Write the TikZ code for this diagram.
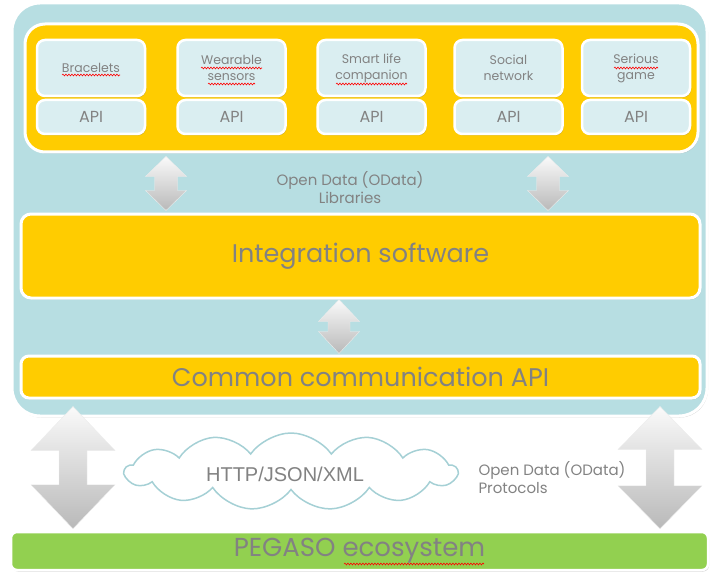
\documentclass[tikz,border=0pt]{standalone}
\usepackage{fontspec}
\setmainfont{Poppins}
\newfontfamily\cloudfont{Liberation Sans}
\usetikzlibrary{shapes.symbols,shadows,calc,decorations.pathmorphing}

\definecolor{panelblue}{RGB}{183,222,226}
\definecolor{boxblue}{RGB}{218,238,241}
\definecolor{gold}{RGB}{255,204,0}
\definecolor{leaf}{RGB}{146,208,80}
\definecolor{txtgray}{RGB}{130,130,130}
\definecolor{cloudline}{RGB}{165,208,213}

\tikzset{
  softshadow/.style={drop shadow={shadow xshift=1pt,shadow yshift=-1.5pt,opacity=.35,fill=black!55}},
  panel/.style={draw=white,line width=3pt,inner sep=0pt,softshadow},
  modbox/.style={panel,fill=boxblue,line width=2.5pt,rounded corners=8pt,minimum width=108pt,
                 text=txtgray,align=center,font=\fontsize{12.5}{16}\selectfont},
  apibox/.style={modbox,minimum height=34pt,font=\fontsize{16}{18}\selectfont},
  topbox/.style={modbox,minimum height=56pt},
  bigtext/.style={text=txtgray,font=\fontsize{25.5}{28}\selectfont},
  smalltext/.style={text=txtgray,align=left,font=\fontsize{15}{18}\selectfont},
  arrowshade/.style={top color=white!96!gray,bottom color=gray!55,draw=white!85!gray,line width=.4pt},
  squig/.style={red,line width=.6pt,decorate,decoration={snake,amplitude=.9pt,segment length=3pt}}
}

% vertical double block arrow between two tip points
% #1 top tip, #2 bottom tip, #3 head half width, #4 shaft half width, #5 head length
\newcommand\dblarrow[5]{%
  \shade[arrowshade] let \p1=(#1), \p2=(#2) in
    (\x1,\y1) -- (\x1+#3,\y1-#5) -- (\x1+#4,\y1-#5) -- (\x1+#4,\y2+#5)
    -- (\x1+#3,\y2+#5) -- (\x1,\y2) -- (\x1-#3,\y2+#5) -- (\x1-#4,\y2+#5)
    -- (\x1-#4,\y1-#5) -- (\x1-#3,\y1-#5) -- cycle;}

\begin{document}
\begin{tikzpicture}[x=1pt,y=-1pt]
\useasboundingbox (0,0) rectangle (711,580);

% outer application panel
\node[panel,fill=panelblue,rounded corners=28pt,minimum width=695pt,minimum height=413pt]
  (app) at (359.5,209.5) {};

% row of devices and services
\node[panel,fill=gold,rounded corners=20pt,minimum width=673pt,minimum height=128pt]
  (mods) at (361.5,88) {};

\node[topbox] (m1) at (91,68)    {Bracelets};
\node[apibox] (a1) at (91,117)   {API};
\node[topbox] (m2) at (231.5,68) {Wearable\\sensors};
\node[apibox] (a2) at (231.5,117){API};
\node[topbox] (m3) at (371.5,68) {Smart life\\companion};
\node[apibox] (a3) at (371.5,117){API};
\node[topbox] (m4) at (508.5,68) {Social\\network};
\node[apibox] (a4) at (508.5,117){API};
\node[topbox] (m5) at (636,68)   {Serious\\game};
\node[apibox] (a5) at (636,117)  {API};

% integration layers
\node[panel,fill=gold,rounded corners=10pt,minimum width=679pt,minimum height=84pt,bigtext]
  (integ) at (360.5,256) {Integration software};
\node[panel,fill=gold,rounded corners=8pt,minimum width=679pt,minimum height=42pt,bigtext]
  (comm) at (360.5,377) {Common communication API};

\node[smalltext,align=center] (libs) at (350,188) {Open Data (OData)\\Libraries};

% ecosystem bar
\node[panel,fill=leaf,rounded corners=6pt,line width=2.5pt,minimum width=697pt,minimum height=38pt,
      bigtext,font=\fontsize{26}{28}\selectfont]
  (eco) at (359.5,551) {PEGASO ecosystem};

% arrow end points
\coordinate (t1) at ($(mods.south -| 166,0)+(0,3)$);
\coordinate (b1) at ($(integ.north -| 166,0)+(0,-2)$);
\coordinate (t2) at ($(mods.south -| 548,0)+(0,3)$);
\coordinate (b2) at ($(integ.north -| 548,0)+(0,-2)$);
\coordinate (t3) at (integ.south -| 339,0);
\coordinate (b3) at ($(comm.north -| 339,0)+(0,-1)$);
\coordinate (t4) at ($(comm.south -| 73,0)+(0,7)$);
\coordinate (b4) at ($(eco.north -| 73,0)+(0,-2)$);
\coordinate (t5) at ($(comm.south -| 660,0)+(0,7)$);
\coordinate (b5) at ($(eco.north -| 660,0)+(0,-2)$);

\dblarrow{t1}{b1}{20.5pt}{11.5pt}{20pt}
\dblarrow{t2}{b2}{20.5pt}{11.5pt}{20pt}
\dblarrow{t3}{b3}{20.5pt}{11pt}{22pt}
\dblarrow{t4}{b4}{42pt}{14pt}{44pt}
\dblarrow{t5}{b5}{42pt}{14pt}{43pt}

% transport cloud and protocol note
\node[cloud,cloud puffs=13,cloud puff arc=110,cloud ignores aspect,draw=cloudline,line width=1.5pt,
      fill=white,minimum width=332pt,minimum height=77pt,inner sep=0pt] (net) at (291,471.5) {};
\node[text=txtgray,font=\cloudfont\fontsize{20}{22}\selectfont] (nettxt) at (285,474) {HTTP/JSON/XML};
\node[smalltext,anchor=west] (proto) at (475,478) {Open Data (OData)\\Protocols};

% spelling marks
\draw[squig] (62,75) -- (120,75);
\draw[squig] (201,68) -- (262,68);
\draw[squig] (208,84) -- (255,84);
\draw[squig] (336,84) -- (407,84);
\draw[squig] (614,68) -- (658,68);
\draw[squig] (344,564) -- (484,564);
\end{tikzpicture}
\end{document}
